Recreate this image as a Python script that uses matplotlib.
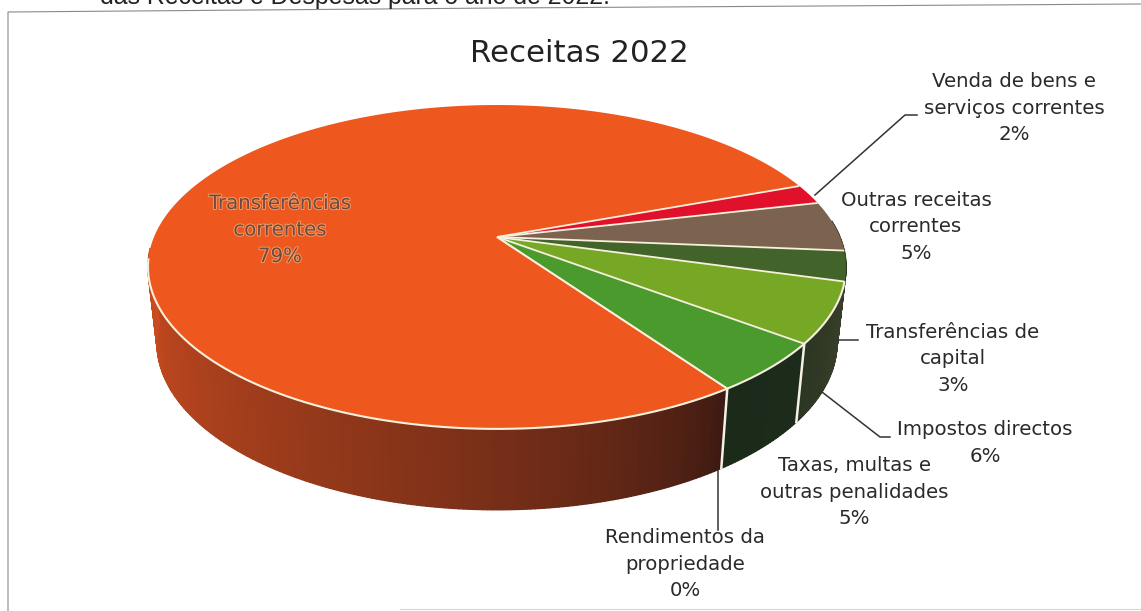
import numpy as np
import matplotlib
matplotlib.use("Agg")
import matplotlib.pyplot as plt
import matplotlib.patheffects as pe
from matplotlib.colors import to_rgb

# slices in drawing order, clockwise starting at the red one
categories = ["Venda de bens e\nserviços correntes", "Outras receitas\ncorrentes",
              "Transferências de\ncapital", "Impostos directos",
              "Taxas, multas e\noutras penalidades", "Rendimentos da\npropriedade",
              "Transferências\ncorrentes"]
values = [2, 5, 3, 6, 5, 0, 79]
colors = ["#e2112b", "#7b6350", "#42632a", "#76a826", "#4b9a2e", "#d9531e", "#ee581e"]
# wall colours at left and right end of each slice
wall_left = ["#7a1018", "#4a3a2c", "#30381f", "#2b3622", "#1b2a19", "#3c1a12", "#cc4c20"]
wall_right = ["#7a1018", "#4a3a2c", "#30381f", "#3b3f2b", "#1c2b1b", "#3c1a12", "#3a1912"]
title = "Receitas 2022"
heading = "das Receitas e Despesas para o ano de 2022."

# label centres, pixels
label_x = [1014, 916, 953, 985, 854, 685, 280]
label_y = [108, 227, 359, 443, 492, 564, 230]

# pie geometry in pixels, perspective view of a circle
CX, CY = 497, 237
A, C, S = 156.4, -0.185, 343
START = -20.3


def rim(deg):
    t = np.radians(deg)
    d = 1 + C * np.sin(t)
    return CX + S * np.cos(t) / d, CY + A * np.sin(t) / d


def rim_low(deg):
    x, y = rim(deg)
    return CX + 0.974 * (x - CX), 343 + 1.03 * (y - 267)


fig = plt.figure(figsize=(11.41, 6.11), dpi=100)
ax = fig.add_axes([0, 0, 1, 1])
ax.set_xlim(0, 1141)
ax.set_ylim(611, 0)
ax.axis("off")

edges = START + np.cumsum([0] + values) / sum(values) * 360

# side wall, only the part facing the viewer
for i in range(len(values)):
    a0, a1 = edges[i], edges[i + 1]
    lo, hi = max(a0, -6), min(a1, 176)
    if hi <= lo:
        continue
    n = max(int((hi - lo) * 1.5), 1)
    ang = np.linspace(lo, hi, n + 1)
    c0, c1 = np.array(to_rgb(wall_right[i])), np.array(to_rgb(wall_left[i]))
    for k in range(n):
        f = k / max(n - 1, 1)
        if i == len(values) - 1:
            f = f ** 0.7
        c = c0 + (c1 - c0) * f
        aa = np.linspace(ang[k], ang[k + 1], 3)
        xt, yt = rim(aa)
        xb, yb = rim_low(aa)
        ax.fill(np.r_[xt, xb[::-1]], np.r_[yt, yb[::-1]], color=c, lw=1.0, zorder=2)

# wall dividers
for i in range(len(values)):
    if edges[i] > 30 and edges[i] < 180 and values[i] > 0:
        xt, yt = rim(edges[i])
        xb, yb = rim_low(edges[i])
        ax.plot([xt, xb], [yt, yb], color="#f4f1e6", lw=1.8, zorder=3)

# top of the pie
for i in range(len(values)):
    if values[i] == 0:
        continue
    aa = np.linspace(edges[i], edges[i + 1], int(values[i] * 12) + 4)
    x, y = rim(aa)
    ax.fill(np.r_[CX, x], np.r_[CY, y], color=colors[i], lw=0, zorder=4)

# white lines between slices and along the front rim
for e in edges[:-1]:
    x, y = rim(e)
    ax.plot([CX, x], [CY, y], color="#f6f0dc", lw=1.3, zorder=5, solid_capstyle="butt")
aa = np.linspace(16, 172, 300)
x, y = rim(aa)
ax.plot(x, y, color="#f6f0dc", lw=1.5, zorder=5)

# leader lines
ax.plot([815, 905, 917], [195, 115, 115], color="#333333", lw=1.1, zorder=6)
ax.plot([838, 858], [340, 340], color="#333333", lw=1.1, zorder=6)
ax.plot([822, 880, 890], [392, 437, 437], color="#333333", lw=1.1, zorder=6)
ax.plot([718, 718], [470, 530], color="#333333", lw=1.1, zorder=6)

# labels
for i in range(len(values)):
    txt = categories[i] + "\n" + "%d%%" % values[i]
    t = ax.text(label_x[i], label_y[i], txt, ha="center", va="center", fontsize=14.2,
                family="DejaVu Sans", color="#2a2a2a", linespacing=1.5, zorder=7)
    if i == len(values) - 1:
        t.set_color("#6a4a42")
        t.set_path_effects([pe.withStroke(linewidth=1.4, foreground="#f59a62")])

ax.text(579, 53, title, ha="center", va="center", fontsize=22.2, family="DejaVu Sans", color="#222222")
ax.text(100, 4, heading, ha="left", va="baseline", fontsize=17.9, family="Liberation Sans", color="#222222")

# frame around the chart, the scan is a bit skewed
ax.plot([1141, 500, 8, 8], [4, 8, 12, 611], color="#8a8a8a", lw=0.8, zorder=1)
ax.plot([400, 1141], [609, 609], color="#d4d4d4", lw=0.8, zorder=1)

fig.savefig("out.png", dpi=100)
